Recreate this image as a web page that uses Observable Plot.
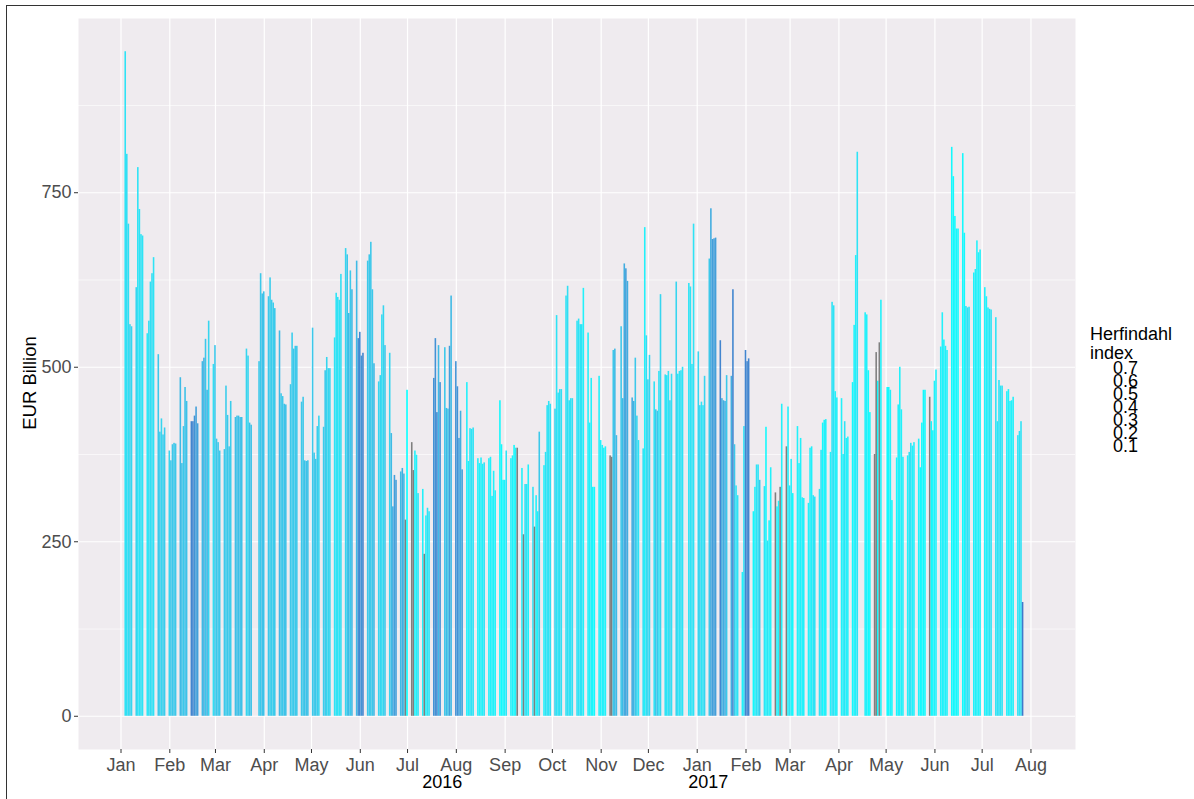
<!DOCTYPE html>
<html>
<head>
<meta charset="utf-8">
<script src="https://cdn.jsdelivr.net/npm/d3@7"></script>
<script src="https://cdn.jsdelivr.net/npm/@observablehq/plot@0.6"></script>
<style>
  html, body { margin: 0; padding: 0; background: #fff; overflow: hidden; }
  body { width: 1194px; height: 799px; position: relative; font-family: "Liberation Sans", Arial, sans-serif; }
  #frame { position: absolute; left: 6px; top: 5px; width: 1200px; height: 810px; border: 1px solid #333; box-sizing: border-box; pointer-events: none; }
  #chart { position: absolute; left: 0; top: 0; }
  #ylab { position: absolute; left: 30px; top: 383px; transform: translate(-50%, -50%) rotate(-90deg); font-size: 18.5px; color: #000; white-space: nowrap; }
  #legend { position: absolute; left: 1090px; top: 325px; font-size: 18px; color: #000; }
  #legend .title { line-height: 19px; }
  #legend .lab { position: absolute; left: 23px; line-height: 18px; }
</style>
</head>
<body>
<div id="chart"></div>
<div id="ylab">EUR Billion</div>
<div id="legend"><div class="title">Herfindahl<br>index</div></div>
<div id="frame"></div>
<script>
// Daily (business-day) values, EUR billion, Jan 4 2016 - Jul 27 2017, one row per week (Mon..Fri); null = no bar
const values = [
  952, 805, 705, 561, 558,
  614, 786, 726, 690, 688,
  548, 566, 622, 634, 657,
  518, 407, 426, 403, 413,
  380, 366, 389, 391, 390,
  485, 362, 415, 471, 451,
  422, 422, 430, 443, 419,
  508, 513, 540, 467, 566,
  504, 531, 397, 392, 380,
  382, 473, 431, 386, 451,
  428, 430, 430, 428, 428,
  526, 516, 420, 417, null,
  null, 508, 634, 605, 608,
  601, 628, 596, 592, 584,
  552, 462, 458, 447, 446,
  475, 549, 526, 530, 530,
  450, 457, 366, 365, 366,
  556, 377, 368, 415, 430,
  414, 495, 514, 498, 498,
  542, 606, 600, 596, 633,
  670, 661, 577, 638, 611,
  652, 541, 550, 516, 520,
  652, 661, 679, 611, 505,
  479, 488, 575, 588, 531,
  520, 405, 300, 345, 338,
  350, 355, 347, 281, 467,
  392, 352, 380, 374, 319,
  325, 232, 287, 298, 293,
  484, 541, 435, 531, 478,
  528, 441, 440, 530, 602,
  508, 472, 398, 437, 353,
  478, 365, 412, 411, 413,
  369, 362, 370, 361, 363,
  369, 371, 315, 351, 323,
  452, 389, 338, 338, 380,
  369, 373, 388, 384, 384,
  355, 260, 332, 332, 360,
  328, 271, 316, 293, 407,
  359, 378, 445, 451, 447,
  440, 574, 463, 468, 468,
  602, 616, 452, 455, 455,
  566, 569, 561, 561, 613,
  549, 420, 484, 328, 328,
  487, 395, 388, 384, 386,
  373, 371, 524, 526, 402,
  558, 455, 648, 641, 623,
  456, 451, 513, 430, 395,
  383, 700, 545, 482, 517,
  479, 439, 437, 494, 604,
  489, 488, 494, 452, 490,
  622, 490, 494, 495, 500,
  null, 620, 615, 504, 705,
  522, 445, 450, 445, 487,
  655, 727, 683, 684, 685,
  538, 455, 452, 451, 488,
  487, 611, 389, 330, 316,
  206, 415, 524, 508, 512,
  293, 328, 360, 360, 338,
  329, 414, 251, 280, 356,
  320, 300, 308, 328, 447,
  386, 443, 330, 368, 319,
  415, 362, 398, 313, 312,
  305, 384, 386, 316, 314,
  325, 381, 420, 424, 425,
  378, 593, 588, 465, 456,
  455, 375, 422, 398, 400,
  478, 560, 660, 808, null,
  null, 578, 575, 495, 435,
  375, 521, 480, 535, 596,
  null, 471, 471, 467, 309,
  370, 446, 500, 439, 371,
  373, 378, 391, 387, 392,
  397, 356, 420, 467, 467,
  457, 422, 409, 480, 496,
  529, 578, 539, 530, 524,
  815, 773, 716, 698, 698,
  806, 692, 587, 585, 586,
  635, 640, 681, 664, 668,
  614, 601, 585, 583, 582,
  571, 422, 481, 473, 473,
  465, 468, 451, 452, 457,
  402, 408, 422, 163
];

// Herfindahl index per business day (null = not available, drawn grey)
const hhi = [
  .20,.22,.22,.25,.25,
  .25,.20,.20,.20,.20,
  .18,.22,.22,.22,.20,
  .30,.28,.25,.28,.28,
  .25,.30,.30,.30,.30,
  .35,.32,.30,.32,.32,
  .55,.55,.50,.45,.45,
  .35,.40,.30,.38,.25,
  .22,.30,.30,.30,.30,
  .30,.28,.30,.30,.28,
  .33,.33,.33,.33,.33,
  .25,.25,.32,.32,null,
  null,.30,.30,.32,.32,
  .30,.28,.28,.28,.30,
  .35,.30,.30,.32,.32,
  .30,.28,.30,.30,.30,
  .30,.30,.32,.32,.32,
  .30,.30,.30,.28,.25,
  .28,.30,.25,.25,.25,
  .20,.20,.20,.20,.22,
  .25,.30,.35,.30,.35,
  .35,.50,.55,.50,.55,
  .30,.30,.30,.30,.35,
  .25,.25,.22,.25,.30,
  .25,.35,.40,.45,.45,
  .35,.40,.35,null,.10,
  null,null,.15,.15,.20,
  .15,null,.15,.20,.20,
  .50,.50,.55,.35,.50,
  .30,.35,.30,.45,.35,
  .50,.50,.45,.40,.45,
  .15,.15,.20,.20,.20,
  .15,.15,.15,.15,.20,
  .15,.15,.15,.15,.15,
  .12,.12,.12,.15,.20,
  .15,.15,.12,.15,null,
  .15,null,.20,.20,.15,
  .20,null,.15,.15,.30,
  .15,.20,.20,.20,.22,
  .25,.20,.20,.22,.22,
  .20,.22,.20,.20,.22,
  .20,.20,.20,.20,.15,
  .15,.15,.15,.12,.12,
  .15,.15,.15,.15,.15,
  null,null,.30,.35,.35,
  .30,.35,.40,.45,.40,
  .40,.38,.30,.25,.20,
  .20,.15,.22,.25,.25,
  .20,.30,.30,.20,.25,
  .20,.20,.20,.25,.22,
  .25,.20,.20,.20,.20,
  null,.20,.20,.20,.20,
  .25,.25,.20,.20,.25,
  .30,.40,.45,.45,.45,
  .55,.40,.40,.40,.30,
  .40,.55,.30,.20,.20,
  .15,.20,.55,.55,.55,
  .12,.15,.20,.20,.30,
  .20,.12,.20,.15,.15,
  null,.15,.15,null,.15,
  null,.15,.20,.15,.12,
  .15,.15,.15,.15,.15,
  .15,.15,.15,.20,.20,
  .20,.20,.12,.15,.15,
  .15,.20,.20,.15,.15,
  .15,.15,.20,.15,.15,
  .12,.15,.15,.20,null,
  null,.15,.15,.12,.12,
  null,null,.12,null,.15,
  null,.12,.12,.15,.12,
  .12,.15,.15,.15,.15,
  .15,.20,.20,.15,.15,
  .15,.12,.12,.12,.12,
  null,.12,.12,.15,.15,
  .15,.15,.15,.15,.15,
  .12,.12,.12,.12,.12,
  .12,.12,.20,.20,.20,
  .15,.15,.15,.15,.15,
  .15,.15,.15,.20,.20,
  .20,.20,.20,.20,.20,
  .15,.15,.15,.15,.15,
  .20,.20,.20,.60
];

const firstDay = "2016-01-04";
const lastDay = "2017-07-27";
const yTicks = [0, 250, 500, 750];
const yMinor = [125, 375, 625, 875];
const monthTicks = ["2016-01-01","2016-02-01","2016-03-01","2016-04-01","2016-05-01","2016-06-01","2016-07-01","2016-08-01","2016-09-01","2016-10-01","2016-11-01","2016-12-01","2017-01-01","2017-02-01","2017-03-01","2017-04-01","2017-05-01","2017-06-01","2017-07-01","2017-08-01"];
const yearLabels = [{date: "2016-07-23", label: "2016"}, {date: "2017-01-08", label: "2017"}];
const legendLabels = ["0.7", "0.6", "0.5", "0.4", "0.3", "0.2", "0.1"];

// business days
const days = [];
for (let t = new Date(firstDay + "T00:00Z"); t <= new Date(lastDay + "T00:00Z"); t = new Date(+t + 864e5)) {
  const wd = t.getUTCDay();
  if (wd > 0 && wd < 6) days.push(t);
}
const data = days.map((date, i) => ({date, value: values[i], hhi: hhi[i]})).filter(d => d.value != null);

const color = d3.scaleLinear().domain([0.1, 0.7]).range(["#00ffff", "#3a5fbf"]).interpolate(d3.interpolateLab).clamp(true);
const fillOf = d => d.hhi == null ? "#7f7f7f" : color(d.hhi);
const half = 0.5 * 864e5;
const ticks = monthTicks.map(s => new Date(s + "T00:00Z"));

const plot = Plot.plot({
  width: 1194,
  height: 799,
  marginLeft: 78,
  marginRight: 119,
  marginTop: 18,
  marginBottom: 50,
  style: {fontFamily: "'Liberation Sans', Arial, sans-serif", background: "transparent"},
  x: {type: "utc", domain: [new Date("2015-12-05T00:00Z"), new Date("2017-08-29T07:00Z")]},
  y: {domain: [-47.6, 999.6]},
  color: {type: "identity"},
  marks: [
    Plot.frame({fill: "#efebef", stroke: null}),
    Plot.gridY(yMinor, {stroke: "white", strokeOpacity: 1, strokeWidth: 0.6}),
    Plot.gridY(yTicks, {stroke: "white", strokeOpacity: 1, strokeWidth: 1.2}),
    Plot.gridX(ticks, {stroke: "white", strokeOpacity: 1, strokeWidth: 1.2}),
    Plot.rect(data, {
      x1: d => new Date(+d.date - half),
      x2: d => new Date(+d.date + half),
      y1: 0,
      y2: "value",
      fill: fillOf
    }),
    Plot.axisY(yTicks, {tickSize: 4, tickPadding: 3, fontSize: 18, fill: "#4d4d4d", stroke: "#333", label: null}),
    Plot.axisX(ticks, {tickSize: 4, tickPadding: 5, fontSize: 18, fill: "#4d4d4d", stroke: "#333", tickFormat: d3.utcFormat("%b"), label: null}),
    Plot.text(yearLabels, {x: d => new Date(d.date + "T00:00Z"), text: "label", frameAnchor: "bottom", dy: 38, fontSize: 18, fill: "#000"})
  ]
});
document.getElementById("chart").appendChild(plot);

const leg = document.getElementById("legend");
legendLabels.forEach((t, i) => {
  const el = document.createElement("div");
  el.className = "lab";
  el.textContent = t;
  el.style.top = (34 + i * 13) + "px";
  leg.appendChild(el);
});
</script>
</body>
</html>
